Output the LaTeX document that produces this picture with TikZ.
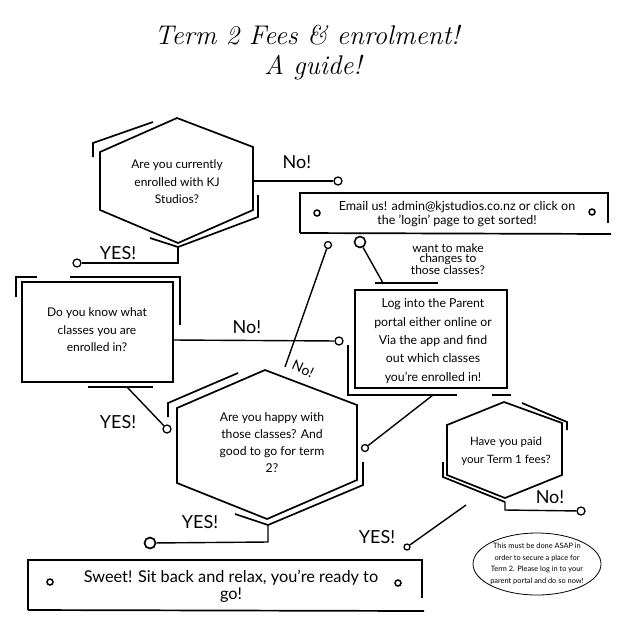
\documentclass[tikz,border=0pt]{standalone}
\usepackage{fontspec}
\setmainfont{Lato}
\newfontfamily\titlefont{Latin Modern Roman}
\usetikzlibrary{shapes.geometric}
\tikzset{
  shp/.style={line width=1.7pt, line join=miter},
  deco/.style={line width=1.7pt},
  conn/.style={line width=1.4pt},
  circ/.style={circle, draw, fill=white, inner sep=0pt, minimum size=8pt, line width=1.3pt},
  dot/.style={circle, draw, fill=white, inner sep=0pt, minimum size=6pt, line width=1.5pt},
  txt/.style={align=center, inner sep=0pt, font=\fontsize{12}{17.5}\selectfont},
  lbl/.style={inner sep=0pt, font=\fontsize{18}{18}\selectfont},
}
\begin{document}
\begin{tikzpicture}[x=1pt,y=-1pt]
\useasboundingbox (0,0) rectangle (628,622);
% title
\node[font=\titlefont\itshape\fontsize{27}{27}\selectfont] (t1) at (307,35) {Term 2 Fees \& enrolment!};
\node[font=\titlefont\itshape\fontsize{27}{27}\selectfont] (t2) at (313,68) {A guide!};

% ---- top hexagon
\draw[shp] (177,118) -- (253,147) -- (253,210) -- (178,243) -- (100,210) -- (100,152) -- cycle;
\draw[deco] (93,157) -- (93,143) -- (153,122);
\draw[deco] (150,238) -- (178,247) -- (258,217) -- (258,195);
\node[txt] (q1) at (177,182) {Are you currently\\enrolled with KJ\\Studios?};
\coordinate (h1r) at (253,181);
\coordinate (h1b) at (178,247);
\coordinate (h1bc) at (178,263);
\node[circ] (c1) at (338,181) {};
\node[circ] (c2) at (77,263) {};
\draw[conn] (h1r) -- (c1);
\draw[conn] (h1b) -- (h1bc) -- (c2);
\node[lbl] (n1) at (297,162) {No!};
\node[lbl] (y1) at (118,253) {YES!};

% ---- email box
\draw[shp] (300,233) -- (300,193) -- (608,193) -- (608,223);
\draw[shp] (300,233) -- (611,234);
\node[dot] (d1) at (317,213) {};
\node[dot] (d2) at (592,212) {};
\node[align=center, inner sep=0pt, font=\fontsize{12.5}{14}\selectfont] (em) at (457,214) {Email us! admin@kjstudios.co.nz or click on\\the 'login' page to get sorted!};

% ---- left box
\draw[shp] (22,282) rectangle (173,382);
\draw[deco] (16,297) -- (16,277) -- (37,277);
\draw[deco] (70,277) -- (180,277) -- (180,325);
\draw[deco] (88,387) -- (153,387);
\node[txt] (q2) at (97,330) {Do you know what\\classes you are\\enrolled in?};
\coordinate (lbr) at (173,340);
\node[circ] (c3) at (339,341) {};
\draw[conn] (lbr) -- (c3);
\node[lbl] (n2) at (247,327) {No!};

% ---- login box
\draw[shp] (355,290) rectangle (507,388);
\draw[deco] (348,345) -- (348,395) -- (457,395);
\draw[deco] (492,395) -- (511,395);
\draw[deco] (375,283) -- (438,283);
\node[align=center, inner sep=0pt, font=\fontsize{12.3}{18.3}\selectfont] (q3) at (433,341) {Log into the Parent\\portal either online or\\Via the app and find\\out which classes\\you're enrolled in!};
\node[circ, minimum size=11pt, line width=1.6pt] (c4) at (360,242) {};
\coordinate (sh) at (383,283);
\draw[conn] (c4) -- (sh);
\node[align=center, inner sep=0pt, font=\fontsize{12}{9.5}\selectfont] (wq) at (448,259) {want to make\\changes to\\those classes?};

% ---- No! diagonal
\node[circ, minimum size=7pt] (c5) at (328,245) {};
\coordinate (ne) at (285,367);
\draw[conn] (c5) -- (ne);
\node[inner sep=0pt, font=\fontsize{14}{14}\selectfont, rotate=-25] (n3) at (303,369) {No!};

% ---- center hexagon
\draw[shp] (265,370) -- (357,405) -- (357,480) -- (267,519) -- (177,483) -- (177,408) -- cycle;
\draw[deco] (168,417) -- (168,403) -- (238,373);
\draw[deco] (235,514) -- (268,525) -- (363,485) -- (363,462);
\node[align=center, inner sep=0pt, font=\fontsize{12.2}{17}\selectfont] (q4) at (272,443) {Are you happy with\\those classes? And\\good to go for term\\2?};
\node[circ] (c6) at (167,429) {};
\coordinate (lbb) at (127,387);
\draw[conn] (lbb) -- (c6);
\node[lbl] (y2) at (118,422) {YES!};
\node[circ, minimum size=7pt] (c7) at (365,448) {};
\coordinate (lgb) at (433,395);
\draw[conn] (c7) -- (lgb);
\coordinate (h2b) at (268,525);
\coordinate (h2bc) at (268,542);
\node[circ, minimum size=11pt, line width=1.7pt] (c8) at (150,543) {};
\draw[conn] (h2b) -- (h2bc) -- (c8);
\node[lbl] (y3) at (200,522) {YES!};

% ---- right hexagon
\draw[shp] (504,402) -- (562,423) -- (562,475) -- (505,498) -- (447,475) -- (447,425) -- cycle;
\draw[deco] (522,403) -- (567,422) -- (567,430);
\draw[deco] (443,462) -- (443,477) -- (505,502);
\node[align=center, inner sep=0pt, font=\fontsize{11.5}{18}\selectfont] (q5) at (506,451) {Have you paid\\your Term 1 fees?};
\coordinate (h3b) at (505,502);
\coordinate (h3bc) at (505,510);
\node[circ] (c9) at (581,511) {};
\draw[conn] (h3b) -- (h3bc) -- (c9);
\node[lbl] (n4) at (550,497) {No!};
\node[circ, minimum size=6pt] (c10) at (407,547) {};
\coordinate (ye) at (466,505);
\draw[conn] (c10) -- (ye);
\node[lbl] (y4) at (377,537) {YES!};

% ---- ellipse note
\draw[line width=0.8pt] (537,564) ellipse [x radius=64, y radius=31];
\node[align=center, inner sep=0pt, font=\fontsize{7.4}{11.5}\selectfont] (note) at (537,564) {This must be done ASAP in\\order to secure a place for\\Term 2. Please log in to your\\parent portal and do so now!};

% ---- bottom box
\draw[shp] (28,610) -- (28,560) -- (422,560) -- (422,598);
\draw[shp] (28,610) -- (424,611);
\node[dot] (d3) at (50,582) {};
\node[dot] (d4) at (398,583) {};
\node[align=center, inner sep=0pt, font=\fontsize{16.3}{17}\selectfont] (fin) at (231,586) {Sweet! Sit back and relax, you're ready to\\go!};
\end{tikzpicture}
\end{document}
